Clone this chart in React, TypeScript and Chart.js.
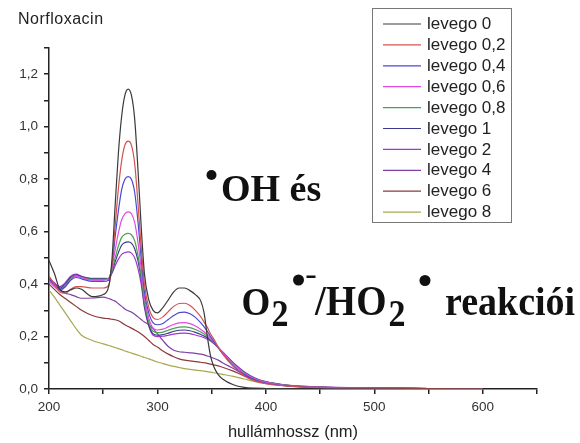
import React, { useEffect, useRef } from "react";
import { Chart, registerables } from "chart.js";

Chart.register(...registerables);

const WAVELENGTH = [200, 205, 210, 215, 220, 225, 230, 240, 250, 255, 258, 261, 264, 267, 270, 273, 276, 279, 282, 285, 288, 292, 296, 300, 305, 310, 315, 320, 325, 330, 335, 340, 343, 346, 349, 352, 356, 360, 370, 380, 390, 400, 420, 450, 500, 550, 600];

const LEVEGO_0 = [0.49, 0.44, 0.38, 0.37, 0.378, 0.385, 0.38, 0.352, 0.36, 0.39, 0.49, 0.70, 0.90, 1.04, 1.12, 1.143, 1.12, 1.03, 0.84, 0.62, 0.44, 0.34, 0.30, 0.29, 0.31, 0.34, 0.37, 0.385, 0.385, 0.375, 0.36, 0.335, 0.29, 0.2, 0.125, 0.085, 0.055, 0.038, 0.016, 0.006, 0.003, 0.002, 0.001, 0, 0, 0, 0];
const LEVEGO_02 = [0.43, 0.40, 0.37, 0.365, 0.38, 0.39, 0.39, 0.385, 0.385, 0.395, 0.47, 0.62, 0.765, 0.87, 0.93, 0.945, 0.93, 0.86, 0.71, 0.54, 0.40, 0.31, 0.272, 0.265, 0.275, 0.295, 0.315, 0.326, 0.327, 0.318, 0.30, 0.275, 0.255, 0.235, 0.21, 0.19, 0.16, 0.135, 0.085, 0.05, 0.03, 0.02, 0.011, 0.006, 0.003, 0.002, 0.001];
const LEVEGO_04 = [0.42, 0.40, 0.38, 0.39, 0.415, 0.425, 0.42, 0.41, 0.41, 0.415, 0.47, 0.58, 0.68, 0.76, 0.80, 0.81, 0.80, 0.75, 0.64, 0.50, 0.37, 0.29, 0.252, 0.245, 0.25, 0.265, 0.28, 0.291, 0.293, 0.287, 0.273, 0.252, 0.237, 0.22, 0.20, 0.182, 0.158, 0.135, 0.088, 0.055, 0.034, 0.022, 0.012, 0.006, 0.003, 0.002, 0.001];
const LEVEGO_06 = [0.41, 0.39, 0.375, 0.39, 0.415, 0.43, 0.425, 0.415, 0.415, 0.42, 0.46, 0.53, 0.595, 0.645, 0.668, 0.675, 0.668, 0.635, 0.56, 0.46, 0.35, 0.27, 0.232, 0.225, 0.228, 0.237, 0.246, 0.252, 0.253, 0.249, 0.24, 0.227, 0.218, 0.207, 0.195, 0.18, 0.16, 0.14, 0.095, 0.06, 0.038, 0.025, 0.013, 0.007, 0.003, 0.002, 0.001];
const LEVEGO_08 = [0.415, 0.395, 0.38, 0.395, 0.42, 0.432, 0.425, 0.418, 0.418, 0.422, 0.45, 0.50, 0.545, 0.578, 0.59, 0.593, 0.588, 0.565, 0.51, 0.43, 0.33, 0.255, 0.22, 0.215, 0.217, 0.224, 0.231, 0.236, 0.237, 0.234, 0.227, 0.217, 0.21, 0.20, 0.19, 0.177, 0.158, 0.14, 0.097, 0.062, 0.039, 0.026, 0.014, 0.007, 0.003, 0.002, 0.001];
const LEVEGO_1 = [0.42, 0.40, 0.385, 0.40, 0.425, 0.435, 0.428, 0.42, 0.42, 0.422, 0.445, 0.485, 0.52, 0.548, 0.558, 0.561, 0.556, 0.535, 0.49, 0.42, 0.32, 0.245, 0.21, 0.205, 0.207, 0.213, 0.22, 0.224, 0.225, 0.222, 0.216, 0.208, 0.202, 0.195, 0.186, 0.175, 0.158, 0.14, 0.098, 0.063, 0.04, 0.027, 0.014, 0.007, 0.004, 0.002, 0.001];
const LEVEGO_2 = [0.425, 0.405, 0.39, 0.405, 0.43, 0.438, 0.43, 0.422, 0.422, 0.421, 0.44, 0.47, 0.495, 0.513, 0.52, 0.523, 0.518, 0.50, 0.46, 0.40, 0.31, 0.24, 0.205, 0.20, 0.201, 0.205, 0.209, 0.212, 0.213, 0.211, 0.206, 0.20, 0.196, 0.19, 0.183, 0.173, 0.158, 0.142, 0.10, 0.066, 0.042, 0.028, 0.015, 0.008, 0.004, 0.002, 0.001];
const LEVEGO_4 = [0.415, 0.395, 0.375, 0.365, 0.36, 0.352, 0.346, 0.347, 0.35, 0.345, 0.34, 0.335, 0.325, 0.315, 0.305, 0.298, 0.293, 0.285, 0.275, 0.265, 0.255, 0.245, 0.23, 0.21, 0.185, 0.162, 0.148, 0.142, 0.14, 0.138, 0.136, 0.133, 0.13, 0.126, 0.122, 0.117, 0.11, 0.10, 0.078, 0.055, 0.037, 0.025, 0.013, 0.006, 0.003, 0.002, 0.001];
const LEVEGO_6 = [0.40, 0.38, 0.36, 0.345, 0.33, 0.315, 0.30, 0.28, 0.27, 0.268, 0.266, 0.264, 0.26, 0.253, 0.245, 0.238, 0.232, 0.225, 0.218, 0.21, 0.20, 0.185, 0.17, 0.16, 0.145, 0.133, 0.123, 0.115, 0.11, 0.107, 0.104, 0.102, 0.10, 0.098, 0.095, 0.092, 0.088, 0.083, 0.068, 0.05, 0.035, 0.024, 0.013, 0.006, 0.003, 0.002, 0.001];
const LEVEGO_8 = [0.377, 0.35, 0.32, 0.29, 0.26, 0.23, 0.205, 0.185, 0.172, 0.166, 0.162, 0.158, 0.154, 0.15, 0.145, 0.141, 0.137, 0.133, 0.129, 0.125, 0.12, 0.115, 0.109, 0.103, 0.097, 0.091, 0.086, 0.082, 0.078, 0.075, 0.072, 0.07, 0.068, 0.066, 0.064, 0.062, 0.059, 0.056, 0.048, 0.038, 0.028, 0.02, 0.011, 0.005, 0.002, 0.001, 0.0005];

const SERIES_LABELS = ["levego 0", "levego 0,2", "levego 0,4", "levego 0,6", "levego 0,8", "levego 1", "levego 2", "levego 4", "levego 6", "levego 8"];
const SERIES_VALUES = [LEVEGO_0, LEVEGO_02, LEVEGO_04, LEVEGO_06, LEVEGO_08, LEVEGO_1, LEVEGO_2, LEVEGO_4, LEVEGO_6, LEVEGO_8];
const SERIES_COLORS = ["#3a3a3a", "#d65252", "#4a4ad0", "#e04ae0", "#4ea04e", "#3c3c8c", "#a038d0", "#8040a8", "#8c3a3a", "#a8a850"];

const X_TICK_LABELS = [200, 300, 400, 500, 600];
const Y_TICK_LABELS = [0, 0.2, 0.4, 0.6, 0.8, 1.0, 1.2];

const SANS = '"Liberation Sans", Arial, sans-serif';
const SERIF = '"Liberation Serif", "Times New Roman", serif';

function stretchedText(ctx: any, text: string, x: number, baseline: number, size: number, sy: number) {
  ctx.save();
  ctx.translate(x, baseline);
  ctx.scale(1, sy);
  ctx.font = `bold ${size}px ${SERIF}`;
  ctx.fillText(text, 0, 0);
  ctx.restore();
}

function dot(ctx: any, x: number, y: number, r: number) {
  ctx.beginPath();
  ctx.arc(x, y, r, 0, Math.PI * 2);
  ctx.fill();
}

const overlayPlugin = {
  id: "overlay",
  afterDraw(chart: any) {
    const ctx = chart.ctx;
    ctx.save();
    // Title
    ctx.fillStyle = "#222";
    ctx.font = `16px ${SANS}`;
    ctx.textBaseline = "middle";
    ctx.textAlign = "left";
    try { (ctx as any).letterSpacing = "0.5px"; } catch (e) {}
    ctx.fillText("Norfloxacin", 18, 20);
    try { (ctx as any).letterSpacing = "0px"; } catch (e) {}

    // Legend
    ctx.strokeStyle = "#777";
    ctx.lineWidth = 1;
    ctx.strokeRect(372.5, 8.5, 139, 214);
    chart.data.datasets.forEach((ds: any, i: number) => {
      const y = 24 + i * 20.9;
      ctx.strokeStyle = ds.borderColor;
      ctx.lineWidth = 1.2;
      ctx.beginPath();
      ctx.moveTo(383, y);
      ctx.lineTo(421, y);
      ctx.stroke();
      ctx.fillStyle = "#222";
      ctx.font = `17px ${SANS}`;
      ctx.textBaseline = "middle";
      ctx.fillText(ds.label, 427, y + 0.5);
    });

    // Annotation 1
    ctx.fillStyle = "#111";
    ctx.textBaseline = "alphabetic";
    dot(ctx, 211.5, 175, 5);
    stretchedText(ctx, "OH és", 221, 201, 38, 1.0);

    // Annotation 2
    const base = 315;
    stretchedText(ctx, "O", 241.5, base, 37, 1.1);
    stretchedText(ctx, "2", 271.5, base + 11, 34, 1.12);
    dot(ctx, 298.5, 280, 5.5);
    ctx.fillRect(306.5, 275.5, 9, 2.5);
    stretchedText(ctx, "/HO", 315, base, 39, 1.1);
    stretchedText(ctx, "2", 388.5, base + 11, 34, 1.12);
    dot(ctx, 425, 280.5, 5.5);
    stretchedText(ctx, "reakciói", 445, base, 38, 1.08);
    ctx.restore();
  },
};

export default function App() {
  const ref = useRef<HTMLCanvasElement | null>(null);
  useEffect(() => {
    if (!ref.current) return;
    const datasets = SERIES_LABELS.map((label, i) => ({
      label,
      data: WAVELENGTH.map((x, j) => ({ x, y: SERIES_VALUES[i][j] })),
      borderColor: SERIES_COLORS[i],
      backgroundColor: SERIES_COLORS[i],
      borderWidth: 1.2,
      pointRadius: 0,
      fill: false,
      cubicInterpolationMode: "monotone" as const,
    }));
    const chart = new Chart(ref.current, {
      type: "line",
      data: { datasets },
      options: {
        animation: false,
        responsive: false,
        maintainAspectRatio: false,
        layout: { padding: { left: 0, right: 43, top: 48, bottom: 0 } },
        plugins: { legend: { display: false }, tooltip: { enabled: false } },
        scales: {
          x: {
            type: "linear",
            min: 200,
            max: 650,
            afterFit: (s: any) => { s.height = 54; },
            ticks: {
              stepSize: 50,
              autoSkip: false,
              maxRotation: 0,
              padding: 5,
              color: "#333",
              font: { size: 13.5, family: SANS },
              callback: (v: any) => (X_TICK_LABELS.includes(Number(v)) ? String(v) : ""),
            },
            grid: { drawOnChartArea: false, drawTicks: true, tickLength: 5, color: "#222", lineWidth: 1.5 },
            border: { display: true, color: "#222", width: 1.5 },
            title: {
              display: true,
              text: "hullámhossz (nm)",
              color: "#222",
              font: { size: 16.5, family: SANS },
              padding: { top: 0, bottom: 1 },
            },
          },
          y: {
            type: "linear",
            min: 0,
            max: 1.3,
            afterFit: (s: any) => { s.width = 49; },
            ticks: {
              stepSize: 0.1,
              autoSkip: false,
              padding: 6,
              color: "#333",
              font: { size: 13.5, family: SANS },
              callback: (v: any) => {
                const n = Number(v);
                const hit = Y_TICK_LABELS.find((t) => Math.abs(t - n) < 1e-6);
                return hit === undefined ? "" : hit.toFixed(1).replace(".", ",");
              },
            },
            grid: { drawOnChartArea: false, drawTicks: true, tickLength: 5, color: "#222", lineWidth: 1.5 },
            border: { display: true, color: "#222", width: 1.5 },
          },
        },
      },
      plugins: [overlayPlugin],
    });
    return () => chart.destroy();
  }, []);
  return (
    <div style={{ position: "fixed", left: 0, top: 0, width: 580, height: 443, background: "#fff" }}>
      <canvas ref={ref} width={580} height={443} style={{ width: 580, height: 443 }} />
    </div>
  );
}
